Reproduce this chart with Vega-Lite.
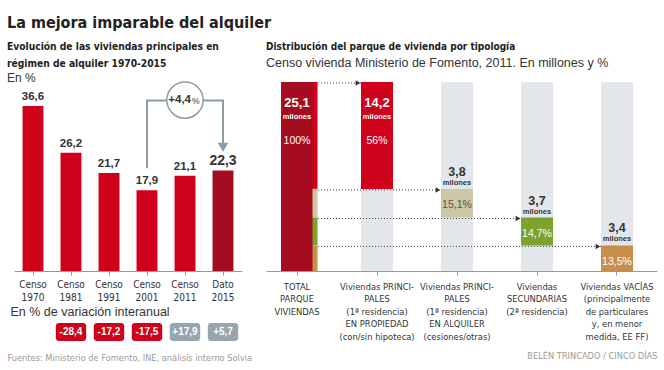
{
  "$schema": "https://vega.github.io/schema/vega-lite/v6.json",
  "background": "white",
  "padding": {"left": 7, "top": 14, "right": 6, "bottom": 3},
  "title": {"text": "La mejora imparable del alquiler", "anchor": "start", "fontSize": 16, "fontWeight": "bold", "color": "#222", "offset": 11},
  "config": {
    "view": {"stroke": null},
    "font": "DejaVu Sans Condensed, sans-serif",
    "title": {"font": "DejaVu Sans Condensed, sans-serif", "subtitleFont": "Liberation Sans, sans-serif"},
    "axis": {"labelFont": "DejaVu Sans Condensed, sans-serif", "titleFont": "DejaVu Sans Condensed, sans-serif"},
    "text": {"font": "Liberation Sans, sans-serif"}
  },
  "datasets": {
    "censos": [
      {"c": "Censo 1970", "v": 36.6, "t": "36,6", "d": null, "vt": ""},
      {"c": "Censo 1981", "v": 26.2, "t": "26,2", "d": -28.4, "vt": "-28,4"},
      {"c": "Censo 1991", "v": 21.7, "t": "21,7", "d": -17.2, "vt": "-17,2"},
      {"c": "Censo 2001", "v": 17.9, "t": "17,9", "d": -17.5, "vt": "-17,5"},
      {"c": "Censo 2011", "v": 21.1, "t": "21,1", "d": 17.9, "vt": "+17,9"},
      {"c": "Dato 2015", "v": 22.3, "t": "22,3", "d": 5.7, "vt": "+5,7"}
    ],
    "conector": [
      {"c": "Censo 2001", "y": 22.8, "o": 1},
      {"c": "Censo 2001", "y": 37.8, "o": 2},
      {"c": "Dato 2015", "y": 37.8, "o": 3},
      {"c": "Dato 2015", "y": 28.4, "o": 4}
    ],
    "tipo": [
      {"k": "TOTAL", "lo": 0, "hi": 25.1, "v": "25,1", "p": "100%"},
      {"k": "PROP", "lo": 10.9, "hi": 25.1, "v": "14,2", "p": "56%"},
      {"k": "ALQ", "lo": 7.1, "hi": 10.9, "v": "3,8", "p": "15,1%"},
      {"k": "SEC", "lo": 3.4, "hi": 7.1, "v": "3,7", "p": "14,7%"},
      {"k": "VAC", "lo": 0, "hi": 3.4, "v": "3,4", "p": "13,5%"}
    ],
    "enlaces": [
      {"g": 1, "k": "TOTAL", "y": 25.1},
      {"g": 1, "k": "PROP", "y": 25.1},
      {"g": 2, "k": "TOTAL", "y": 10.9},
      {"g": 2, "k": "ALQ", "y": 10.9},
      {"g": 3, "k": "TOTAL", "y": 7.1},
      {"g": 3, "k": "SEC", "y": 7.1},
      {"g": 4, "k": "TOTAL", "y": 3.4},
      {"g": 4, "k": "VAC", "y": 3.4}
    ]
  },
  "spacing": 14,
  "hconcat": [
    {
      "spacing": 5,
      "vconcat": [
        {
          "width": 228,
          "height": 189,
          "title": {"text": ["Evolución de las viviendas principales en", "régimen de alquiler 1970-2015"], "subtitle": "En %", "anchor": "start", "fontSize": 10.2, "fontWeight": "bold", "color": "#222", "lineHeight": 17, "subtitleFontSize": 12, "subtitleColor": "#333", "subtitlePadding": 3.5, "offset": -4.8, "dx": -3},
          "data": {"name": "censos"},
          "encoding": {
            "x": {"field": "c", "type": "nominal", "sort": null,
              "scale": {"domain": ["Censo 1970", "Censo 1981", "Censo 1991", "Censo 2001", "Censo 2011", "Dato 2015"], "paddingInner": 0.45, "paddingOuter": 0.225},
              "axis": {"labelAngle": 0, "labelExpr": "split(datum.label, ' ')", "labelFontSize": 10, "labelLineHeight": 13, "labelColor": "#333", "labelPadding": 4, "tickSize": 4, "tickColor": "#999", "domainColor": "#999", "title": "En % de variación interanual", "titleFont": "Liberation Sans, sans-serif", "titleFontSize": 12.5, "titleFontWeight": "normal", "titleColor": "#333", "titleAlign": "left", "titleX": -4, "titlePadding": 3.5}},
            "y": {"field": "v", "type": "quantitative", "scale": {"domain": [0, 41.9], "nice": false}, "axis": null}
          },
          "layer": [
            {"mark": {"type": "bar"},
             "encoding": {"color": {"condition": {"test": "datum.c === 'Dato 2015'", "value": "#a60c1f"}, "value": "#d0011b"}}},
            {"mark": {"type": "text", "fontWeight": "bold", "color": "#333", "dy": -9, "baseline": "middle"},
             "encoding": {"text": {"field": "t"}, "size": {"condition": {"test": "datum.c === 'Dato 2015'", "value": 14}, "value": 11.5}}},
            {"data": {"name": "conector"},
             "mark": {"type": "line", "color": "#8e9ca6", "strokeWidth": 2},
             "encoding": {"x": {"field": "c", "type": "nominal"}, "y": {"field": "y", "type": "quantitative"}, "order": {"field": "o"}}},
            {"data": {"values": [{"c": "Censo 2011", "y": 37.9}]},
             "mark": {"type": "point", "shape": "circle", "size": 1320, "filled": false, "fill": "white", "fillOpacity": 1, "stroke": "#8e9ca6", "strokeWidth": 1.5, "opacity": 1},
             "encoding": {"x": {"field": "c", "type": "nominal"}, "y": {"field": "y", "type": "quantitative"}}},
            {"data": {"values": [{"c": "Dato 2015", "y": 27.4}]},
             "mark": {"type": "point", "shape": "triangle-down", "size": 110, "filled": true, "color": "#8e9ca6", "opacity": 1},
             "encoding": {"x": {"field": "c", "type": "nominal"}, "y": {"field": "y", "type": "quantitative"}}},
            {"data": {"values": [{"c": "Censo 2011", "y": 37.9, "a": "+4,4", "b": "%"}]},
             "mark": {"type": "text", "fontWeight": "bold", "fontSize": 11.5, "color": "#333", "align": "right", "dx": 6, "baseline": "middle"},
             "encoding": {"x": {"field": "c", "type": "nominal"}, "y": {"field": "y", "type": "quantitative"}, "text": {"field": "a"}}},
            {"data": {"values": [{"c": "Censo 2011", "y": 37.9, "a": "+4,4", "b": "%"}]},
             "mark": {"type": "text", "fontSize": 8.5, "color": "#333", "align": "left", "dx": 7, "dy": 1, "baseline": "middle"},
             "encoding": {"x": {"field": "c", "type": "nominal"}, "y": {"field": "y", "type": "quantitative"}, "text": {"field": "b"}}}
          ]
        },
        {
          "width": 228,
          "height": 18,
          "data": {"name": "censos"},
          "transform": [{"filter": "datum.d != null"}],
          "encoding": {
            "x": {"field": "c", "type": "nominal", "sort": null,
              "scale": {"domain": ["Censo 1970", "Censo 1981", "Censo 1991", "Censo 2001", "Censo 2011", "Dato 2015"], "paddingInner": 0.2, "paddingOuter": 0.1},
              "axis": {"labels": false, "ticks": false, "domain": false, "title": "Fuentes: Ministerio de Fomento, INE, análisis interno Solvia", "titleFontSize": 9.2, "titleFontWeight": "normal", "titleColor": "#9a9a9a", "titleAlign": "left", "titleX": -7, "titlePadding": 12}}
          },
          "layer": [
            {"mark": {"type": "bar", "cornerRadius": 3},
             "encoding": {"color": {"condition": {"test": "datum.d < 0", "value": "#d0011b"}, "value": "#98a5ae"}}},
            {"mark": {"type": "text", "fontWeight": "bold", "fontSize": 10, "color": "white", "baseline": "middle"},
             "encoding": {"text": {"field": "vt"}}}
          ]
        }
      ]
    },
    {
      "width": 391,
      "height": 189,
      "title": {"text": "Distribución del parque de vivienda por tipología", "subtitle": "Censo vivienda Ministerio de Fomento, 2011. En millones y  %", "anchor": "start", "fontSize": 10, "fontWeight": "bold", "color": "#222", "lineHeight": 14, "subtitleFontSize": 12.5, "subtitleColor": "#333", "subtitlePadding": 4.5, "offset": 10.9},
      "encoding": {
        "x": {"field": "k", "type": "nominal",
          "scale": {"domain": ["TOTAL", "PROP", "ALQ", "SEC", "VAC"], "paddingInner": 0.6, "paddingOuter": 0.244, "align": 0.385},
          "axis": {"labelAngle": 0, "labelExpr": "datum.value == 'TOTAL' ? ['TOTAL', 'PARQUE', 'VIVIENDAS'] : datum.value == 'PROP' ? ['Viviendas PRINCI-', 'PALES', '(1ª residencia)', 'EN PROPIEDAD', '(con/sin hipoteca)'] : datum.value == 'ALQ' ? ['Viviendas PRINCI-', 'PALES', '(1ª residencia)', 'EN ALQUILER', '(cesiones/otras)'] : datum.value == 'SEC' ? ['Viviendas', 'SECUNDARIAS', '(2ª residencia)'] : ['Viviendas VACÍAS', '(principalmente', 'de particulares', 'y, en menor', 'medida, EE FF)']", "labelFontSize": 9.3, "labelLineHeight": 12.5, "labelColor": "#333", "labelPadding": 7, "tickSize": 4, "tickColor": "#999", "domainColor": "#999", "title": "BELÉN TRINCADO / CINCO DÍAS", "titleAnchor": "end", "titleAlign": "right", "titleFontSize": 9.2, "titleFontWeight": "normal", "titleColor": "#9a9a9a", "titlePadding": 10.5}},
        "y": {"field": "hi", "type": "quantitative", "scale": {"domain": [0, 25.1], "nice": false}, "axis": null}
      },
      "layer": [
        {"data": {"name": "tipo"},
         "transform": [{"filter": "datum.k !== 'TOTAL'"}],
         "mark": {"type": "bar", "color": "#e3e7eb"},
         "encoding": {"y": {"datum": 25.1, "type": "quantitative"}, "y2": {"datum": 0}}},
        {"data": {"name": "enlaces"},
         "mark": {"type": "line", "color": "#444", "strokeWidth": 1, "strokeDash": [1, 2], "yOffset": 1},
         "encoding": {"y": {"field": "y", "type": "quantitative"}, "detail": {"field": "g"}}},
        {"data": {"name": "tipo"},
         "mark": {"type": "bar"},
         "encoding": {"y2": {"field": "lo"},
           "color": {"field": "k", "type": "nominal", "scale": {"domain": ["TOTAL", "PROP", "ALQ", "SEC", "VAC"], "range": ["#a60c1f", "#d0011b", "#cec7a5", "#7ca32b", "#c78f4b"]}, "legend": null}}},
        {"data": {"name": "tipo"},
         "transform": [{"filter": "datum.k !== 'TOTAL'"}],
         "mark": {"type": "bar", "width": 5, "xOffset": 18},
         "encoding": {"x": {"datum": "TOTAL", "type": "nominal"}, "y2": {"field": "lo"},
           "color": {"field": "k", "type": "nominal", "legend": null}}},
        {"data": {"name": "enlaces"},
         "transform": [{"filter": "datum.k !== 'TOTAL'"}],
         "mark": {"type": "point", "shape": "triangle-right", "filled": true, "color": "#333", "size": 30, "xOffset": -19, "yOffset": 1, "opacity": 1},
         "encoding": {"y": {"field": "y", "type": "quantitative"}}},
        {"data": {"name": "tipo"},
         "transform": [{"filter": "datum.k === 'TOTAL' || datum.k === 'PROP'"}],
         "mark": {"type": "text", "fontWeight": "bold", "fontSize": 13, "color": "white", "dy": 21, "baseline": "middle"},
         "encoding": {"text": {"field": "v"}}},
        {"data": {"name": "tipo"},
         "transform": [{"filter": "datum.k === 'TOTAL' || datum.k === 'PROP'"}],
         "mark": {"type": "text", "fontWeight": "bold", "fontSize": 7.5, "color": "white", "dy": 35, "baseline": "middle"},
         "encoding": {"text": {"value": "milones"}}},
        {"data": {"name": "tipo"},
         "transform": [{"filter": "datum.k === 'TOTAL' || datum.k === 'PROP'"}],
         "mark": {"type": "text", "fontSize": 10.5, "color": "white", "dy": 59, "baseline": "middle"},
         "encoding": {"text": {"field": "p"}}},
        {"data": {"name": "tipo"},
         "transform": [{"filter": "datum.k !== 'TOTAL' && datum.k !== 'PROP'"}],
         "mark": {"type": "text", "fontWeight": "bold", "fontSize": 12.5, "color": "#333", "dy": -17, "baseline": "middle"},
         "encoding": {"text": {"field": "v"}}},
        {"data": {"name": "tipo"},
         "transform": [{"filter": "datum.k !== 'TOTAL' && datum.k !== 'PROP'"}],
         "mark": {"type": "text", "fontWeight": "bold", "fontSize": 7.5, "color": "#333", "dy": -6, "baseline": "middle"},
         "encoding": {"text": {"value": "milones"}}},
        {"data": {"name": "tipo"},
         "transform": [{"filter": "datum.k !== 'TOTAL' && datum.k !== 'PROP'"}],
         "mark": {"type": "text", "fontSize": 10.5, "dy": 16.5, "baseline": "middle"},
         "encoding": {"text": {"field": "p"}, "color": {"condition": {"test": "datum.k === 'ALQ'", "value": "#555"}, "value": "white"}}}
      ]
    }
  ]
}
